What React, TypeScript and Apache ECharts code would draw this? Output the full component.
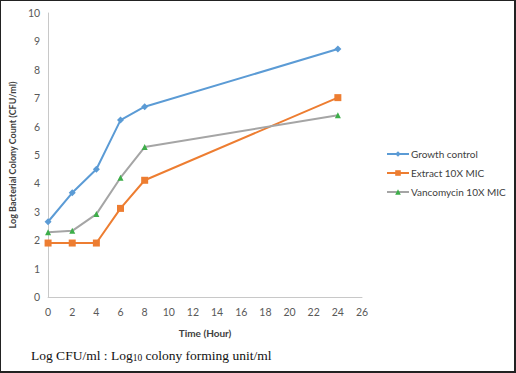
import React, { useEffect, useRef } from "react";
import * as echarts from "echarts";

const hours = [0, 2, 4, 6, 8, 24];
const growthControl = [2.65, 3.67, 4.5, 6.23, 6.7, 8.73];
const extract10x = [1.9, 1.9, 1.9, 3.12, 4.11, 7.02];
const vancomycin10x = [2.28, 2.33, 2.92, 4.2, 5.28, 6.4];
const seriesNames = ["Growth control", "Extract 10X MIC", "Vancomycin 10X MIC"];

const pairs = (ys: number[]) => hours.map((h, i) => [h, ys[i]]);

export default function App() {
  const ref = useRef<HTMLDivElement>(null);
  useEffect(() => {
    if (!ref.current) return;
    const chart = echarts.init(ref.current, null, { renderer: "svg" });
    const font = "Lato, 'Open Sans', sans-serif";
    chart.setOption({
      animation: false,
      backgroundColor: "#ffffff",
      grid: { left: 44, top: 13, width: 318, height: 284, containLabel: false },
      legend: {
        orient: "vertical",
        left: 381,
        top: 144,
        itemWidth: 22,
        itemHeight: 7,
        itemGap: 9,
        textStyle: { color: "#404040", fontSize: 10, fontFamily: font, padding: [0, 0, 0, -3] },
        data: [
          { name: seriesNames[0] },
          { name: seriesNames[1] },
          { name: seriesNames[2], lineStyle: { color: "#A5A5A5" }, itemStyle: { color: "#3DAE49" } },
        ],
      },
      xAxis: {
        type: "value",
        min: 0,
        max: 26,
        interval: 2,
        name: "Time (Hour)",
        nameLocation: "middle",
        nameGap: 31,
        nameTextStyle: { color: "#404040", fontSize: 10, fontWeight: "bold", fontFamily: font },
        axisLine: { show: true, lineStyle: { color: "#c8c8c8", width: 1 } },
        axisTick: { show: false },
        splitLine: { show: false },
        axisLabel: { color: "#595959", fontSize: 10.5, fontFamily: font, margin: 9 },
      },
      yAxis: {
        type: "value",
        min: 0,
        max: 10,
        interval: 1,
        name: "Log Bacterial Colony Count (CFU/ml)",
        nameLocation: "middle",
        nameGap: 29,
        nameTextStyle: { color: "#404040", fontSize: 9, fontWeight: "bold", fontFamily: font },
        axisLine: { show: true, lineStyle: { color: "#c8c8c8", width: 1 } },
        axisTick: { show: false },
        splitLine: { show: false },
        axisLabel: { color: "#595959", fontSize: 10.5, fontFamily: font, margin: 8 },
      },
      series: [
        {
          name: seriesNames[0],
          type: "line",
          data: pairs(growthControl),
          symbol: "diamond",
          symbolSize: 7,
          lineStyle: { color: "#5B9BD5", width: 2 },
          itemStyle: { color: "#5B9BD5" },
        },
        {
          name: seriesNames[1],
          type: "line",
          data: pairs(extract10x),
          symbol: "rect",
          symbolSize: 7,
          lineStyle: { color: "#ED7D31", width: 2 },
          itemStyle: { color: "#ED7D31" },
        },
        {
          name: seriesNames[2],
          type: "line",
          data: pairs(vancomycin10x),
          symbol: "triangle",
          symbolSize: 6,
          lineStyle: { color: "#A5A5A5", width: 2 },
          itemStyle: { color: "#3DAE49" },
        },
      ],
      graphic: [
        {
          type: "text",
          left: 31,
          top: 348,
          style: {
            text: "{a|Log CFU/ml : Log}{s|10}{a| colony forming unit/ml}",
            rich: {
              a: { fontFamily: "'Liberation Serif', 'DejaVu Serif', serif", fontSize: 13.5, fill: "#111111" },
              s: {
                fontFamily: "'Liberation Serif', 'DejaVu Serif', serif",
                fontSize: 9.5,
                fill: "#111111",
                padding: [5, 0, 0, 0],
              },
            },
          },
        },
      ],
    });
    return () => chart.dispose();
  }, []);
  return (
    <div style={{ position: "fixed", left: 0, top: 0, width: 516, height: 373 }}>
      <div ref={ref} style={{ width: 516, height: 373 }} />
      <div
        style={{
          position: "absolute",
          left: 0,
          top: 0,
          width: 516,
          height: 373,
          boxSizing: "border-box",
          borderTop: "1px solid #222",
          borderLeft: "1px solid #222",
          borderRight: "2px solid #222",
          borderBottom: "2px solid #222",
          pointerEvents: "none",
        }}
      />
    </div>
  );
}
